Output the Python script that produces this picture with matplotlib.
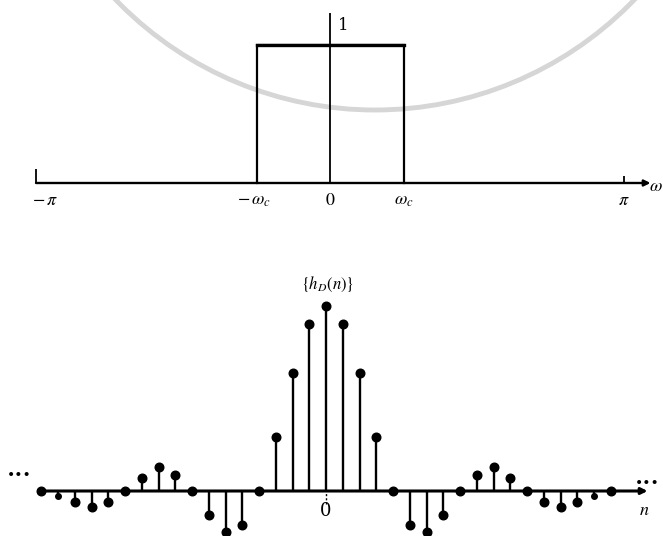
import numpy as np
import matplotlib
matplotlib.use("Agg")
import matplotlib.pyplot as plt
from matplotlib.patches import Arc

plt.rcParams['mathtext.fontset'] = 'stix'
plt.rcParams['font.family'] = ['DejaVu Serif']

# ---------------- data ----------------
# top panel: ideal lowpass response
omega_c = np.pi / 4
H_pass = 1.0
top_ticks = [-np.pi, -omega_c, 0, omega_c, np.pi]
top_tick_labels = [r'$-\,\pi$', r'$-\,\omega_c$', r'$0$', r'$\omega_c$', r'$\pi$']

# bottom panel: impulse response samples
n_vals = list(range(-17, 18))
h_pos = [0.250, 0.226, 0.159, 0.073, 0.0,
         -0.046, -0.056, -0.032, 0.0,
         0.022, 0.032, 0.018, 0.0,
         -0.015, -0.022, -0.015, -0.007, 0.0]
h_vals = h_pos[:0:-1] + h_pos  # n = -17 .. 17
small_n = [-16, 16]

fig = plt.figure(figsize=(6.63, 5.36), dpi=100)

# watermark ring (background)
bg = fig.add_axes([0, 0, 1, 1])
bg.set_xlim(0, 663); bg.set_ylim(536, 0); bg.axis('off')
bg.add_patch(Arc((375, -250), 720, 720, theta1=0, theta2=180,
                 color='#d6d6d6', lw=3.5, zorder=0))

# ---------------- top panel ----------------
px_per_pi = 294.0
x0_top = 330.0
y0_top = 183.0
px_per_unit = 138.0
ax1 = fig.add_axes([0, 0, 1, 1])
ax1.patch.set_alpha(0)
x_lo = -x0_top / px_per_pi * np.pi
x_hi = (663 - x0_top) / px_per_pi * np.pi
ax1.set_xlim(x_lo, x_hi)
ax1.set_ylim((y0_top - 536) / px_per_unit, y0_top / px_per_unit)
ax1.axis('off')

ax1.annotate('', xy=(1.09 * np.pi, 0), xytext=(-np.pi, 0),
             arrowprops=dict(arrowstyle='-|>', lw=1.7, color='k',
                             mutation_scale=9, shrinkA=0, shrinkB=0))
ax1.vlines([-np.pi], 0, 0.10, color='k', lw=1.3)
ax1.vlines([np.pi], 0, 0.05, color='k', lw=1.3)
ax1.vlines([0], 0, 1.23, color='k', lw=1.3)
ax1.plot([-omega_c, -omega_c, omega_c, omega_c], [0, H_pass, H_pass, 0],
         color='k', lw=1.6, solid_joinstyle='miter')
ax1.plot([-omega_c, omega_c], [H_pass, H_pass], color='k', lw=2.4)

label_offsets = [0.10, -0.03, 0.0, 0.0, 0.0]
for t, lab, off in zip(top_ticks, top_tick_labels, label_offsets):
    ax1.text(t + off, -0.12, lab, ha='center', va='center', fontsize=13)
ax1.text(x_hi - 0.005, -0.02, r'$\omega$', ha='right', va='center', fontsize=13)
ax1.text(0.045 * np.pi, 1.14, '1', ha='center', va='center', fontsize=12,
         family='DejaVu Serif')

# ---------------- bottom panel ----------------
px_per_n = 16.75
x0_bot = 326.0
y0_bot = 491.0
px_per_h = 740.0
ax2 = fig.add_axes([0, 0, 1, 1])
ax2.patch.set_alpha(0)
ax2.set_xlim(-x0_bot / px_per_n, (663 - x0_bot) / px_per_n)
ax2.set_ylim((y0_bot - 536) / px_per_h, y0_bot / px_per_h)
ax2.axis('off')

ax2.annotate('', xy=(19.2, 0), xytext=(-17, 0),
             arrowprops=dict(arrowstyle='-|>', lw=2.2, color='k',
                             mutation_scale=9, shrinkA=0, shrinkB=0))
n_arr = np.array(n_vals)
h_arr = np.array(h_vals)
ax2.vlines(n_arr, 0, h_arr, color='k', lw=1.7)
big = ~np.isin(n_arr, small_n)
ax2.plot(n_arr[big], h_arr[big], 'o', color='k', ms=6.2)
ax2.plot(n_arr[~big], h_arr[~big], 'o', color='k', ms=4.0)
ax2.vlines([0], -0.018, 0, color='k', lw=1.0, linestyles=(0, (1.5, 1.5)))

ax2.text(0, -0.027, '0', ha='center', va='center', fontsize=13)
ax2.text(19.0, -0.026, r'$n$', ha='center', va='center', fontsize=13)
ax2.text(0.1, 0.279, r'$\{h_D(n)\}$', ha='center', va='center', fontsize=12)
ax2.text(-18.3, 0.022, '•••', ha='center', va='center', fontsize=10,
         family='DejaVu Sans')
ax2.text(19.2, 0.011, '•••', ha='center', va='center', fontsize=10,
         family='DejaVu Sans')

fig.savefig('out.png', dpi=100, facecolor='white')
